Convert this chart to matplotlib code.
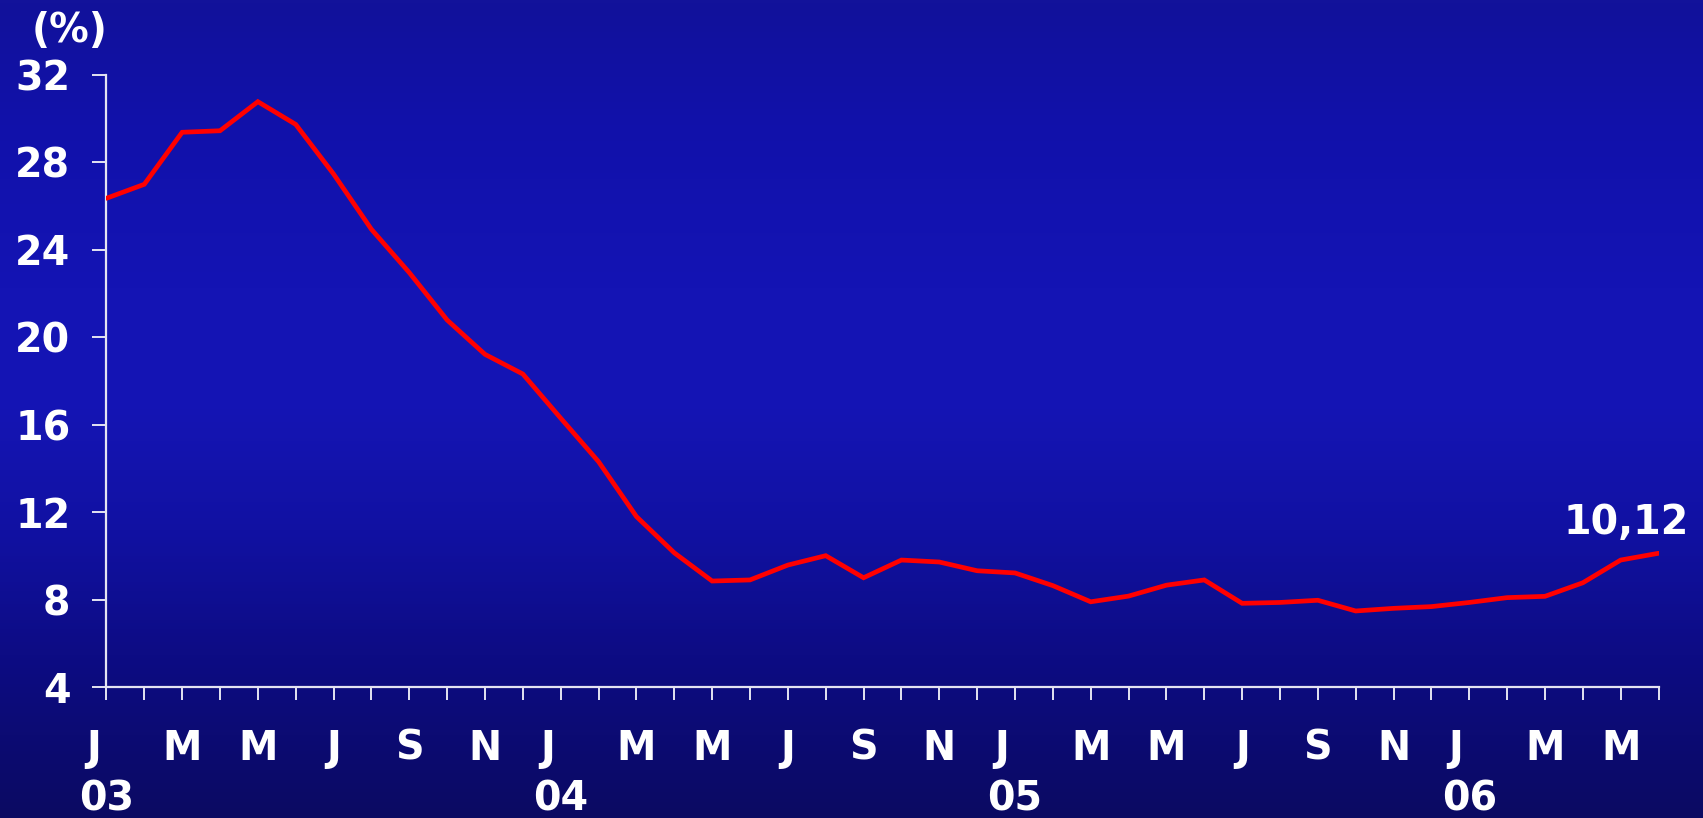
import matplotlib.pyplot as plt
import matplotlib.transforms as mtransforms
from matplotlib.colors import LinearSegmentedColormap
import numpy as np

# Monthly rate, Jan 2003 .. Jun 2006
rate = [26.36, 27.0, 29.38, 29.45, 30.78, 29.74, 27.47, 24.94, 22.96, 20.79,
        19.22, 18.32, 16.3, 14.31, 11.8, 10.14, 8.85, 8.9, 9.58, 10.01,
        9.0, 9.81, 9.72, 9.32, 9.22, 8.64, 7.9, 8.16, 8.66, 8.9,
        7.83, 7.87, 7.97, 7.48, 7.6, 7.68, 7.87, 8.09, 8.15, 8.77,
        9.81, 10.12]
months = np.arange(len(rate))

month_labels = ['J', 'M', 'M', 'J', 'S', 'N'] * 3 + ['J', 'M', 'M']
month_pos = list(range(0, 42, 2))
year_labels = ['03', '04', '05', '06']
year_pos = [0, 12, 24, 36]
y_ticks = [4, 8, 12, 16, 20, 24, 28, 32]
last_label = '10,12'

plt.rcParams['font.family'] = ['DejaVu Sans']
plt.rcParams['font.weight'] = 'bold'
FS = 28.5

fig = plt.figure(figsize=(17.03, 8.18), dpi=100)

# vertical blue gradient behind everything
bg = fig.add_axes([0, 0, 1, 1], zorder=-10)
bg_cmap = LinearSegmentedColormap.from_list('bg', [
    (0.0, '#12129A'), (0.15, '#1111AA'), (0.35, '#1414B4'), (0.5, '#1515B4'),
    (0.65, '#1111A2'), (0.8, '#0D0C84'), (1.0, '#0B0A62')])
bg.imshow(np.linspace(0, 1, 256).reshape(-1, 1), aspect='auto', cmap=bg_cmap,
          extent=[0, 1, 0, 1], origin='upper')
bg.axis('off')

ax = fig.add_axes([0.0625, 0.1601, 0.9114, 0.7482])
ax.patch.set_alpha(0)

ax.plot(months, rate, color='#FF0000', linewidth=3.4, solid_joinstyle='miter',
        solid_capstyle='round', zorder=3)

ax.set_xlim(0, len(rate) - 1)
ax.set_ylim(4, 32)

axis_color = '#E4E4F2'
for side in ['top', 'right']:
    ax.spines[side].set_visible(False)
for side in ['left', 'bottom']:
    ax.spines[side].set_color(axis_color)
    ax.spines[side].set_linewidth(1.6)

ax.set_yticks(y_ticks)
ax.set_yticklabels([str(v) for v in y_ticks])
ax.tick_params(axis='y', direction='out', length=10, width=1.4, color=axis_color,
               labelcolor='white', labelsize=FS, pad=16)
for lbl in ax.get_yticklabels():
    lbl.set_fontweight('bold')

ax.set_xticks(months)
ax.set_xticklabels([])
ax.tick_params(axis='x', direction='out', length=9.4, width=1.4, color=axis_color)

# month and year labels under the axis; January letters sit a bit left
trans = mtransforms.blended_transform_factory(ax.transData, fig.transFigure)
for pos, lab in zip(month_pos, month_labels):
    shift = -0.35 if pos % 12 == 0 else 0.0
    ax.text(pos + shift, 0.0845, lab, transform=trans, ha='center', va='center',
            color='white', fontsize=FS, fontweight='bold', clip_on=False)
for pos, lab in zip(year_pos, year_labels):
    ax.text(pos, 0.0222, lab, transform=trans, ha='center', va='center',
            color='white', fontsize=FS, fontweight='bold', clip_on=False)

fig.text(0.0408, 0.9625, '(%)', ha='center', va='center', color='white',
         fontsize=FS, fontweight='bold')

ax.annotate(last_label, xy=(months[-1], rate[-1]), xytext=(-23, 22),
            textcoords='offset points', ha='center', va='center',
            color='white', fontsize=FS, fontweight='bold')

fig.savefig('out.png', dpi=100)
